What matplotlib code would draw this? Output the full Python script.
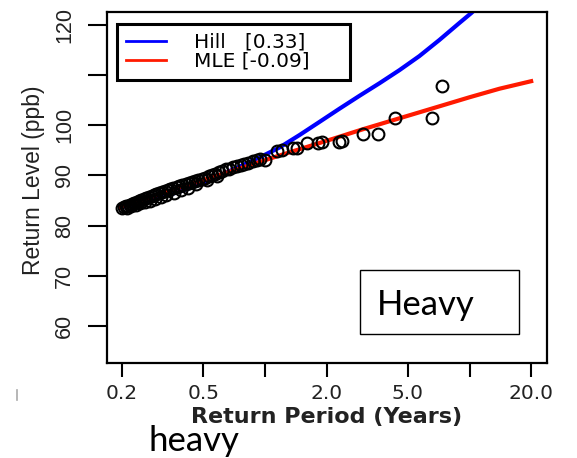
import matplotlib
matplotlib.use('Agg')
import matplotlib.pyplot as plt
from matplotlib.lines import Line2D
from matplotlib.patches import Rectangle

# fitted return level curves
hill_period = [0.196, 0.245, 0.306, 0.384, 0.48, 0.60, 0.753, 0.942, 1.18, 1.48, 1.85,
               2.31, 2.90, 3.63, 4.54, 5.68, 7.11, 8.91, 10.2, 11.5, 13.0]
hill_level = [83.6, 84.4, 85.6, 86.8, 88.2, 90.0, 91.8, 93.6, 95.6, 98.1, 100.7,
              103.3, 105.9, 108.4, 111.0, 113.8, 117.0, 120.4, 122.4, 124.4, 126.4]

mle_period = [0.196, 0.274, 0.384, 0.537, 0.753, 1.18, 2.07, 3.00, 4.54, 7.0,
              10.0, 14.0, 20.0]
mle_level = [83.6, 85.6, 87.6, 89.5, 91.4, 94.0, 97.1, 99.2, 101.4, 103.7,
             105.6, 107.3, 108.8]

# empirical return levels
obs_period = [7.36, 6.58, 4.30, 3.55, 3.00, 2.39, 2.31, 1.89, 1.81, 1.60, 1.43, 1.37,
              1.21, 1.15, 1.00,
              0.95, 0.91, 0.87, 0.83, 0.79, 0.76, 0.73, 0.70, 0.67, 0.645, 0.62, 0.595,
              0.57, 0.55, 0.53, 0.51, 0.49, 0.47, 0.455, 0.44, 0.425, 0.41, 0.395, 0.38,
              0.37, 0.355, 0.345, 0.335, 0.325, 0.315, 0.305, 0.295, 0.287, 0.279, 0.271,
              0.263, 0.256, 0.249, 0.242, 0.236, 0.23, 0.224, 0.219, 0.214, 0.209, 0.205,
              0.201,
              0.58, 0.52, 0.46, 0.42, 0.39, 0.36, 0.33, 0.31, 0.29, 0.275, 0.26, 0.245,
              0.233, 0.222, 0.212]
obs_level = [107.8, 101.4, 101.4, 98.2, 98.2, 96.8, 96.6, 96.6, 96.4, 96.4, 95.4, 95.4,
             95.0, 94.8, 93.0,
             93.2, 93.0, 92.9, 92.5, 92.3, 92.1, 91.8, 91.6, 91.3, 91.2, 90.9, 90.6,
             90.3, 90.1, 89.8, 89.5, 89.3, 89.0, 88.9, 88.7, 88.5, 88.3, 88.1, 87.9,
             87.7, 87.5, 87.3, 87.1, 87.0, 86.8, 86.6, 86.4, 86.2, 86.0, 85.8,
             85.5, 85.3, 85.1, 84.9, 84.7, 84.5, 84.3, 84.2, 84.0, 83.9, 83.7,
             83.6,
             89.8, 89.0, 88.2, 87.6, 87.2, 86.6, 86.1, 85.7, 85.3, 85.0, 84.7, 84.5,
             84.2, 83.9, 83.6]

xticks = [0.2, 0.5, 1, 2, 5, 10, 20]
xticklabels = ['0.2', '0.5', '', '2.0', '5.0', '', '20.0']
yticks = [60, 70, 80, 90, 100, 110, 120]
yticklabels = ['60', '70', '80', '90', '100', '', '120']

fig = plt.figure(figsize=(5.77, 4.58), dpi=100)
ax = fig.add_axes([0.1854, 0.2074, 0.7626, 0.7664])

ax.plot(hill_period, hill_level, color='#0000ff', lw=3, label='Hill   [0.33]     ')
ax.plot(mle_period, mle_level, color='#ff1a00', lw=3, label='MLE [-0.09]     ')
ax.plot(obs_period, obs_level, 'o', mfc='none', mec='black', mew=1.5, ms=8.5)

ax.set_xscale('log')
ax.set_xlim(0.169, 23.9)
ax.set_ylim(52.6, 122.6)

ax.set_xticks(xticks)
ax.set_xticklabels(xticklabels, family='DejaVu Sans', fontsize=14.5, color='#222222')
ax.minorticks_off()
ax.set_yticks(yticks)
ax.set_yticklabels(yticklabels, family='Liberation Sans', fontsize=15.5, color='#222222',
                   rotation=90, va='center')
ax.tick_params(axis='y', length=14, width=1.5, pad=9)
ax.tick_params(axis='x', length=10, width=1.5, pad=5)
for s in ax.spines.values():
    s.set_linewidth(1.6)

ax.set_xlabel('Return Period (Years)', family='DejaVu Sans', fontweight='bold',
              fontsize=16, color='#222222')
ax.xaxis.set_label_coords(0.5, -0.124)
ax.set_ylabel('Return Level (ppb)', family='Liberation Sans', fontsize=16.5,
              color='#222222')
ax.yaxis.set_label_coords(-0.14, 0.52)

leg = ax.legend(loc='upper left', bbox_to_anchor=(0.023, 0.966), borderaxespad=0,
                fancybox=False, edgecolor='black', framealpha=1,
                prop={'family': 'DejaVu Sans', 'size': 14.5},
                handlelength=2.0, handletextpad=1.35, labelspacing=0.0,
                borderpad=0.45)
leg.get_frame().set_linewidth(2.2)
for h in leg.get_lines():
    h.set_linewidth(2)

# annotation box and captions
fig.add_artist(Rectangle((0.624, 0.2707), 0.2756, 0.1397, transform=fig.transFigure,
                         fill=False, edgecolor='black', lw=1))
fig.text(0.6534, 0.3122, 'Heavy', family='Lato', fontsize=25, va='baseline')
fig.text(0.2565, 0.0153, 'heavy', family='Lato', fontsize=25, va='baseline')
fig.add_artist(Line2D([17 / 577, 17 / 577], [1 - 390 / 458, 1 - 400 / 458],
                      color='#aaaaaa', lw=1.2))

fig.savefig('out.png', dpi=100)
